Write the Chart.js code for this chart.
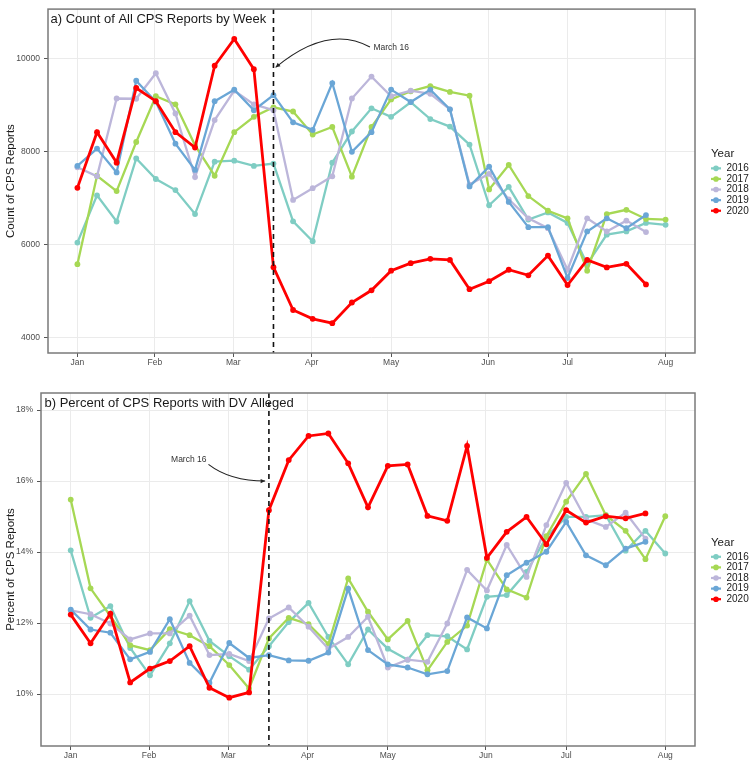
<!DOCTYPE html>
<html>
<head>
<meta charset="utf-8">
<script src="https://cdn.jsdelivr.net/npm/chart.js@4"></script>
<style>
  html, body { margin: 0; padding: 0; background: #fff; overflow: hidden; }
  canvas { position: absolute; left: 0; }
  #painelA { top: 0; }
  #painelB { top: 380px; }
</style>
</head>
<body>
<canvas id="painelA" width="749" height="370"></canvas>
<canvas id="painelB" width="749" height="382"></canvas>
<script>
const anos = ["2016", "2017", "2018", "2019", "2020"];
const cores = ["#7fcdc3", "#a6d854", "#bcb6da", "#6aa6d6", "#ff0000"];

// x axis: week index from first week of January
const meses = ["Jan", "Feb", "Mar", "Apr", "May", "Jun", "Jul", "Aug"];
const semanasMes = [0, 3.95, 7.95, 11.95, 16, 20.95, 25, 30];
const semanaMarco16 = 10;
const rotuloMarco = "March 16";

// a) weekly count of CPS reports
const contagem2016 = [6042, 7056, 6494, 7852, 7409, 7170, 6655, 7782, 7804, 7690, 7740, 6500, 6072, 7761, 8430, 8929, 8746, 9060, 8697, 8536, 8150, 6845, 7240, 6536, 6690, 6465, 5578, 6212, 6282, 6465, 6423];
const contagem2017 = [5578, 7479, 7149, 8205, 9189, 9014, 8133, 7479, 8416, 8746, 8950, 8860, 8366, 8528, 7460, 8528, 9120, 9296, 9408, 9282, 9200, 7184, 7711, 7042, 6726, 6564, 5437, 6655, 6747, 6550, 6536];
const contagem2018 = [7662, 7466, 9140, 9134, 9683, 8817, 7451, 8676, 9309, 9014, 8887, 6959, 7212, 7466, 9141, 9611, 9189, 9309, 9240, 8908, 7290, 7521, 6972, 6564, 6352, 5458, 6564, 6282, 6514, 6268];
const contagem2019 = [7690, 8063, 7550, 9521, 9071, 8169, 7605, 9083, 9330, 8887, 9212, 8627, 8465, 9472, 7994, 8416, 9331, 9064, 9331, 8908, 7250, 7676, 6916, 6374, 6374, 5282, 6282, 6564, 6352, 6634];
const contagem2020 = [7219, 8416, 7761, 9366, 9083, 8416, 8085, 9844, 10422, 9770, 5514, 4593, 4403, 4310, 4754, 5016, 5438, 5599, 5692, 5670, 5040, 5212, 5458, 5339, 5762, 5128, 5670, 5508, 5586, 5142];
const ticksContagem = [4000, 6000, 8000, 10000];

// b) percent of CPS reports with DV alleged
const pct2016 = [14.05, 12.15, 12.48, 11.3, 10.53, 11.43, 12.62, 11.5, 11.07, 10.69, 11.35, 12.03, 12.57, 11.61, 10.84, 11.82, 11.28, 10.97, 11.66, 11.63, 11.26, 12.74, 12.79, 13.44, 14.43, 14.99, 14.99, 15.04, 14.04, 14.6, 13.96];
const pct2017 = [15.48, 12.98, 12.2, 11.38, 11.24, 11.83, 11.66, 11.35, 10.82, 10.16, 11.57, 12.15, 11.97, 11.41, 13.26, 12.32, 11.54, 12.06, 10.67, 11.47, 11.93, 13.79, 12.95, 12.72, 14.45, 15.42, 16.2, 15.04, 14.6, 13.8, 15.01];
const pct2018 = [12.36, 12.25, 11.99, 11.54, 11.71, 11.71, 12.21, 11.1, 11.13, 10.93, 12.13, 12.44, 11.9, 11.28, 11.61, 12.18, 10.75, 10.97, 10.91, 11.99, 13.5, 12.92, 14.2, 13.3, 14.76, 15.95, 14.92, 14.71, 15.11, 14.38];
const pct2019 = [12.38, 11.82, 11.73, 10.98, 11.19, 12.11, 10.88, 10.32, 11.44, 11.02, 11.1, 10.95, 10.94, 11.17, 12.97, 11.24, 10.84, 10.75, 10.56, 10.65, 12.16, 11.85, 13.35, 13.7, 14.01, 14.85, 13.91, 13.63, 14.1, 14.29];
const pct2020 = [12.24, 11.43, 12.27, 10.33, 10.72, 10.93, 11.35, 10.18, 9.9, 10.05, 15.18, 16.59, 17.27, 17.34, 16.5, 15.26, 16.43, 16.47, 15.02, 14.88, 16.99, 13.84, 14.57, 14.99, 14.22, 15.18, 14.83, 15.01, 14.95, 15.09];
const ticksPct = [10, 12, 14, 16, 18];

const fonte = "'Liberation Sans', Arial, sans-serif";

function pontos(valores) {
  return valores.map((v, i) => ({ x: i, y: v }));
}

function seta(ctx, x0, y0, x1, y1) {
  const ang = Math.atan2(y1 - y0, x1 - x0);
  const tam = 5;
  ctx.beginPath();
  ctx.moveTo(x1, y1);
  ctx.lineTo(x1 - tam * Math.cos(ang - 0.45), y1 - tam * Math.sin(ang - 0.45));
  ctx.lineTo(x1 - tam * Math.cos(ang + 0.45), y1 - tam * Math.sin(ang + 0.45));
  ctx.closePath();
  ctx.fill();
}

function desenharPainel(id, op) {
  const extras = {
    id: "extras",
    afterDatasetsDraw(chart) {
      const ctx = chart.ctx;
      const a = chart.chartArea;
      const sx = chart.scales.x, sy = chart.scales.y;
      ctx.save();
      // vertical dashed line at March 16
      const xm = sx.getPixelForValue(semanaMarco16);
      ctx.strokeStyle = "#111";
      ctx.lineWidth = 1.6;
      ctx.setLineDash([5, 4]);
      ctx.beginPath();
      ctx.moveTo(xm, a.top);
      ctx.lineTo(xm, a.bottom);
      ctx.stroke();
      ctx.setLineDash([]);

      // curved arrow + label
      const n = op.nota;
      const p0 = [sx.getPixelForValue(n.inicio[0]), sy.getPixelForValue(n.inicio[1])];
      const c = [sx.getPixelForValue(n.controle[0]), sy.getPixelForValue(n.controle[1])];
      const p1 = [sx.getPixelForValue(n.fim[0]), sy.getPixelForValue(n.fim[1])];
      ctx.strokeStyle = "#222";
      ctx.fillStyle = "#222";
      ctx.lineWidth = 1.1;
      ctx.beginPath();
      ctx.moveTo(p0[0], p0[1]);
      ctx.quadraticCurveTo(c[0], c[1], p1[0], p1[1]);
      ctx.stroke();
      seta(ctx, c[0], c[1], p1[0], p1[1]);
      ctx.font = "8.5px " + fonte;
      ctx.fillStyle = "#333";
      ctx.textAlign = n.alinhar;
      ctx.textBaseline = "middle";
      ctx.fillText(rotuloMarco, sx.getPixelForValue(n.texto[0]), sy.getPixelForValue(n.texto[1]));

      // panel border
      ctx.strokeStyle = "#7a7a7a";
      ctx.lineWidth = 1.5;
      ctx.strokeRect(a.left, a.top, a.right - a.left, a.bottom - a.top);

      // panel title (inside the frame)
      ctx.font = "13px " + fonte;
      ctx.fillStyle = "#1a1a1a";
      ctx.textAlign = "left";
      ctx.fillText(op.titulo, a.left + op.tituloDx, a.top + 10.5);

      // legend
      const cy = (a.top + a.bottom) / 2;
      ctx.font = "11.5px " + fonte;
      ctx.fillText("Year", 711, cy - 27);
      ctx.font = "10px " + fonte;
      anos.forEach((ano, i) => {
        const y = cy + 8.5 + (i - 2) * 10.6;
        ctx.strokeStyle = cores[i];
        ctx.fillStyle = cores[i];
        ctx.lineWidth = 2.2;
        ctx.beginPath();
        ctx.moveTo(711, y);
        ctx.lineTo(721, y);
        ctx.stroke();
        ctx.beginPath();
        ctx.arc(716, y, 2.8, 0, Math.PI * 2);
        ctx.fill();
        ctx.fillStyle = "#1a1a1a";
        ctx.fillText(ano, 726.5, y);
      });
      ctx.restore();
    }
  };

  new Chart(document.getElementById(id), {
    type: "line",
    data: {
      datasets: op.series.map((valores, i) => ({
        label: anos[i],
        data: pontos(valores),
        borderColor: cores[i],
        backgroundColor: cores[i],
        borderWidth: i === 4 ? 2.8 : 2.3,
        pointRadius: 2.9,
        pointBorderWidth: 0,
        pointHoverRadius: 2.9,
        order: 5 - i,
        tension: 0
      }))
    },
    options: {
      responsive: false,
      animation: false,
      layout: { padding: { top: op.topo, right: 54, bottom: 0, left: 0 } },
      plugins: { legend: { display: false }, tooltip: { enabled: false } },
      scales: {
        x: {
          type: "linear",
          min: -1.5,
          max: 31.5,
          afterBuildTicks: s => { s.ticks = semanasMes.map(v => ({ value: v })); },
          afterFit: s => { s.height = op.alturaX; },
          grid: { color: "#ebebeb", lineWidth: 1, tickLength: 4, tickColor: "#555" },
          border: { display: false },
          ticks: {
            autoSkip: false, maxRotation: 0, padding: 1,
            color: "#4d4d4d", font: { family: fonte, size: 8.5 },
            callback: (v, i) => meses[i]
          }
        },
        y: {
          min: op.min,
          max: op.max,
          afterBuildTicks: s => { s.ticks = op.ticks.map(v => ({ value: v })); },
          afterFit: s => { s.width = op.larguraY; },
          grid: { color: "#ebebeb", lineWidth: 1, tickLength: 4, tickColor: "#555" },
          border: { display: false },
          ticks: {
            padding: 4, color: "#4d4d4d", font: { family: fonte, size: 8.5 },
            callback: op.formato
          },
          title: {
            display: true, text: op.tituloY, color: "#1a1a1a",
            font: { family: fonte, size: 11.5 }, padding: { top: 4, bottom: 2 }
          }
        }
      }
    },
    plugins: [extras]
  });
}

desenharPainel("painelA", {
  series: [contagem2016, contagem2017, contagem2018, contagem2019, contagem2020],
  min: 3668, max: 11062, ticks: ticksContagem,
  formato: v => String(v),
  tituloY: "Count of CPS Reports",
  titulo: "a) Count of All CPS Reports by Week",
  tituloDx: 2.5,
  topo: 3, alturaX: 17, larguraY: 48,
  nota: { texto: [15.1, 10240], inicio: [14.92, 10245], controle: [12.81, 10746], fim: [10.11, 9810], alinhar: "left" }
});

desenharPainel("painelB", {
  series: [pct2016, pct2017, pct2018, pct2019, pct2020],
  min: 8.54, max: 18.48, ticks: ticksPct,
  formato: v => v + "%",
  tituloY: "Percent of CPS Reports",
  titulo: "b) Percent of CPS Reports with DV Alleged",
  tituloDx: 3.5,
  topo: 13, alturaX: 16, larguraY: 41,
  nota: { texto: [6.85, 16.6], inicio: [6.95, 16.47], controle: [8.04, 16.0], fim: [9.81, 16.0], alinhar: "right" }
});
</script>
</body>
</html>
